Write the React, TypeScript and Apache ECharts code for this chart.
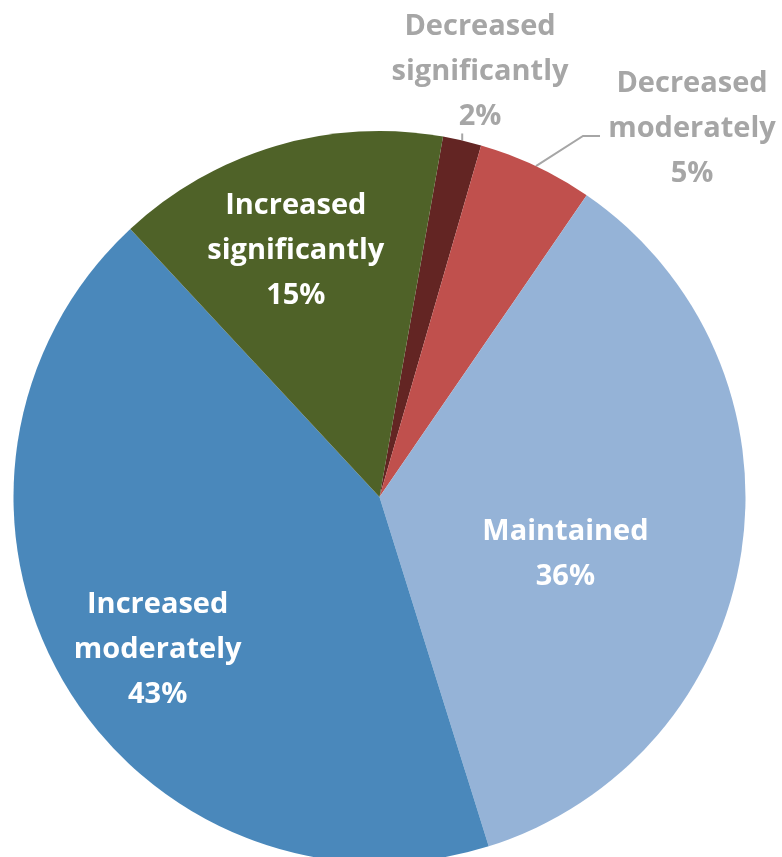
import React, { useEffect, useRef } from "react";
import * as echarts from "echarts";

const categories = [
  "Decreased significantly",
  "Decreased moderately",
  "Maintained",
  "Increased moderately",
  "Increased significantly",
];
const values = [1.7, 5.1, 35.6, 42.9, 14.7];
const colors = ["#632523", "#C0504D", "#95B3D7", "#4A88BB", "#4F6228"];
const outsideLabels = [true, true, false, false, false];

const CENTER: [number, number] = [379.5, 497];
const RADIUS = 366;
const START_ANGLE = 80;

// label placement tweaks (Excel-style label positions)
const insideShift: Record<number, [number, number]> = {
  2: [2, 26],
  3: [-61, 56],
  4: [-31, -71],
};
const outsideLabelPos: Record<number, [number, number]> = {
  0: [480, 68],
  1: [692, 125],
};

export default function App() {
  const ref = useRef<HTMLDivElement>(null);
  useEffect(() => {
    if (!ref.current) return;
    const chart = echarts.init(ref.current, null, { renderer: "svg" });
    const total = values.reduce((a, b) => a + b, 0);
    // mid angles (degrees clockwise from 12 o'clock) for leader lines
    const midAngles: number[] = [];
    let acc = 90 - START_ANGLE;
    values.forEach((v) => {
      const span = (v / total) * 360;
      midAngles.push(acc + span / 2);
      acc += span;
    });
    const edgePoint = (deg: number, r: number): [number, number] => {
      const rad = (deg * Math.PI) / 180;
      return [CENTER[0] + Math.sin(rad) * r, CENTER[1] - Math.cos(rad) * r];
    };
    const font = "'Open Sans', 'DejaVu Sans', sans-serif";
    chart.setOption({
      animation: false,
      series: [
        {
          type: "pie",
          center: CENTER,
          radius: RADIUS,
          startAngle: START_ANGLE,
          clockwise: true,
          avoidLabelOverlap: false,
          itemStyle: { borderWidth: 0 },
          label: {
            show: true,
            position: "inside",
            color: "#FFFFFF",
            fontFamily: font,
            fontWeight: "bold",
            fontSize: 29,
            lineHeight: 45,
            align: "center",
            formatter: (p: any) =>
              `${p.name.replace(" ", "\n")}\n${Math.round(p.percent)}%`,
          },
          labelLine: {
            show: true,
            length: 8,
            length2: 8,
            lineStyle: { color: "#A6A6A6", width: 2 },
          },
          emphasis: { disabled: true },
          labelLayout: (params: any) => {
            const i = params.dataIndex;
            if (outsideLabels[i]) {
              const [x, y] = outsideLabelPos[i];
              const a = edgePoint(midAngles[i], RADIUS);
              let pts: number[][];
              if (i === 0) {
                pts = [a, [a[0], a[1] - 4], [a[0], a[1] - 7]];
              } else {
                pts = [a, [583, 136], [600, 136]];
              }
              return {
                x,
                y,
                align: "center",
                verticalAlign: "middle",
                labelLinePoints: pts,
              };
            }
            const s = insideShift[i] || [0, 0];
            return { dx: s[0], dy: s[1] };
          },
          data: categories.map((name, i) => ({
            name,
            value: values[i],
            itemStyle: { color: colors[i] },
            label: outsideLabels[i]
              ? { position: "outside", color: "#A6A6A6" }
              : { position: "inside" },
          })),
        },
      ],
    });
    return () => chart.dispose();
  }, []);
  return (
    <div
      ref={ref}
      style={{ position: "fixed", left: 0, top: 0, width: 782, height: 857 }}
    />
  );
}
